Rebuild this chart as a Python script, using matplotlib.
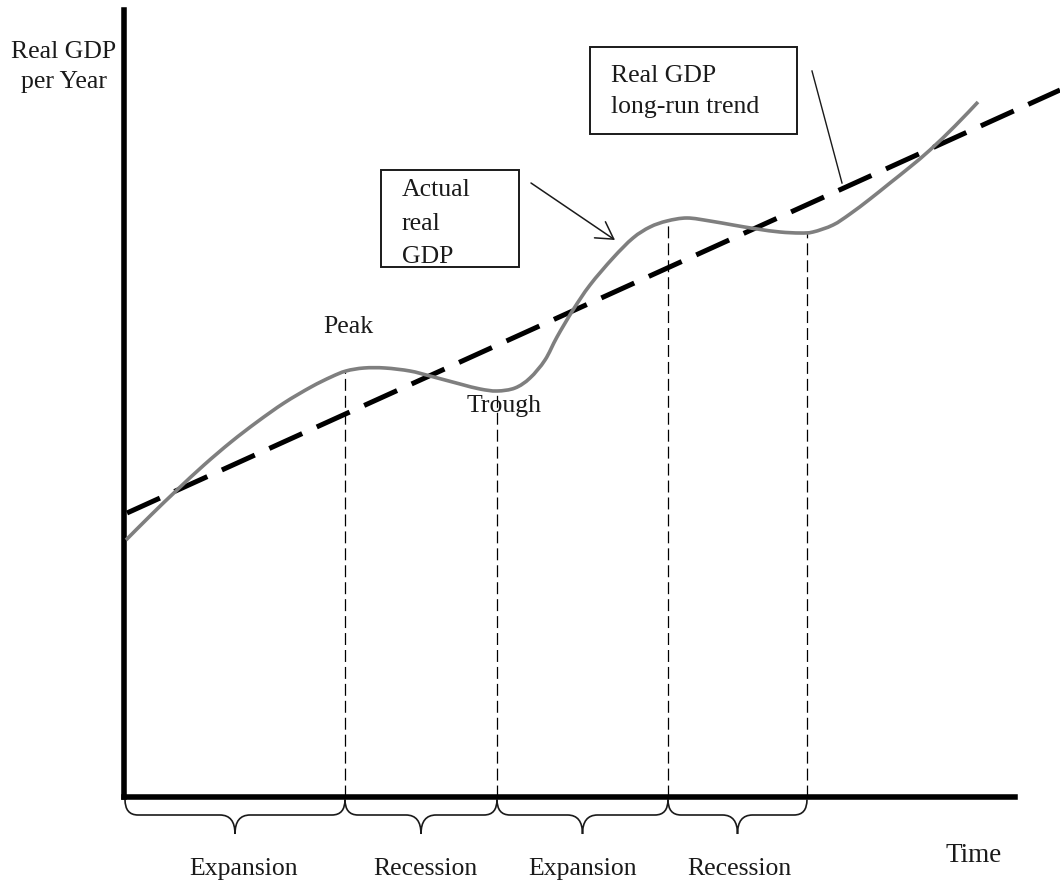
import matplotlib
matplotlib.use("Agg")
import matplotlib.pyplot as plt
import numpy as np
from matplotlib.path import Path
from matplotlib.patches import PathPatch, Rectangle, FancyArrowPatch

plt.rcParams['font.family'] = ['Liberation Serif', 'DejaVu Serif']
plt.rcParams['lines.scale_dashes'] = False

# ---- data (arbitrary units) ----
curve_time = [0.2, 2.7, 5.3, 8.0, 10.7, 13.3, 16.0, 18.7, 20.7, 22.2, 24.0, 26.1,
              28.6, 30.6, 33.6, 35.6, 37.3, 39.1, 40.6, 42.1, 43.3, 44.9, 46.6,
              48.9, 50.9, 52.6, 54.3, 56.3, 58.6, 60.9, 63.3, 65.6, 67.6, 68.9,
              70.9, 72.6, 74.6, 76.6, 78.6, 80.6, 83.1, 85.4]
curve_gdp = [25.7, 28.2, 30.7, 33.2, 35.5, 37.5, 39.4, 41.0, 42.0, 42.6, 42.9, 42.9,
             42.6, 42.1, 41.3, 40.8, 40.6, 40.9, 41.9, 43.7, 46.0, 48.7, 51.2,
             53.9, 55.9, 57.0, 57.6, 57.9, 57.6, 57.2, 56.8, 56.5, 56.4, 56.5,
             57.2, 58.3, 59.8, 61.4, 63.0, 64.7, 67.1, 69.5]
trend_time = [0.3, 93.6]
trend_gdp = [28.4, 70.7]
turning_time = [22.1, 37.3, 54.4, 68.3]
turning_gdp = [42.7, 40.6, 57.6, 56.4]
phase_bounds = [0.1, 22.1, 37.3, 54.4, 68.3]
phase_labels = ['Expansion', 'Recession', 'Expansion', 'Recession']
phase_label_x = [12.0, 30.1, 45.9, 61.5]

FS = 18.5
TXT = '#1a1a1a'
fig = plt.figure(figsize=(10.6, 8.83), dpi=100)
ax = fig.add_axes([124/1060, (883-797)/883, (1015-124)/1060, (797-10)/883])
ax.set_xlim(0, 89.1)
ax.set_ylim(0, 78.7)
for s in ['top', 'right']:
    ax.spines[s].set_visible(False)
for s in ['left', 'bottom']:
    ax.spines[s].set_linewidth(4)
    ax.spines[s].set_color('black')
ax.set_xticks([])
ax.set_yticks([])
ax.patch.set_alpha(0)

# trend line
ax.plot(trend_time, trend_gdp, color='black', lw=3.6, dashes=(26, 11.5),
        clip_on=False, zorder=3)

# actual GDP: smooth path through the read points (Catmull-Rom as Bezier)
P = np.column_stack([curve_time, curve_gdp])
verts = [tuple(P[0])]
codes = [Path.MOVETO]
n = len(P)
for i in range(n - 1):
    p0 = P[max(i - 1, 0)]
    p1 = P[i]
    p2 = P[i + 1]
    p3 = P[min(i + 2, n - 1)]
    c1 = p1 + (p2 - p0) / 6.0
    c2 = p2 - (p3 - p1) / 6.0
    verts += [tuple(c1), tuple(c2), tuple(p2)]
    codes += [Path.CURVE4] * 3
ax.add_patch(PathPatch(Path(verts, codes), fill=False, lw=2.6, edgecolor='#7f7f7f',
                       capstyle='butt', joinstyle='round', clip_on=False, zorder=4))

# vertical dashed lines
for t, g in zip(turning_time, turning_gdp):
    ax.plot([t, t], [0, g], color='black', lw=0.9, dashes=(8.6, 3.6),
            clip_on=False, zorder=2)

# braces
def brace(xa, xb):
    y0, yh, yt = -0.25, -1.8, -3.7
    r, rm = 1.3, 1.5
    xm = (xa + xb) / 2
    verts = [(xa, y0), (xa, yh), (xa + r, yh), (xm - rm, yh), (xm, yh), (xm, yt),
             (xm, yh), (xm + rm, yh), (xb - r, yh), (xb, yh), (xb, y0)]
    codes = [Path.MOVETO, Path.CURVE3, Path.CURVE3, Path.LINETO, Path.CURVE3,
             Path.CURVE3, Path.CURVE3, Path.CURVE3, Path.LINETO, Path.CURVE3,
             Path.CURVE3]
    ax.add_patch(PathPatch(Path(verts, codes), fill=False, lw=1.2,
                           edgecolor=TXT, clip_on=False))

for a, b in zip(phase_bounds[:-1], phase_bounds[1:]):
    brace(a, b)
for lab, x in zip(phase_labels, phase_label_x):
    ax.text(x, -7.8, lab, ha='center', va='baseline', fontsize=FS, color=TXT)
ax.text(85.0, -6.5, 'Time', ha='center', va='baseline', fontsize=19.5, color=TXT)

# y label
ax.text(-6.0, 73.9, 'Real GDP', ha='center', va='baseline', fontsize=FS, color=TXT)
ax.text(-6.0, 70.9, 'per Year', ha='center', va='baseline', fontsize=FS, color=TXT)

# Peak / Trough
ax.text(22.4, 46.4, 'Peak', ha='center', va='baseline', fontsize=FS, color=TXT)
ax.text(38.0, 38.5, 'Trough', ha='center', va='baseline', fontsize=FS, color=TXT)

# Actual real GDP box
ax.add_patch(Rectangle((25.7, 53.0), 13.8, 9.7, fill=False, lw=1.4,
                       edgecolor=TXT, clip_on=False))
for txt, yb in zip(['Actual', 'real', 'GDP'], [60.1, 56.7, 53.4]):
    ax.text(27.8, yb, txt, ha='left', va='baseline', fontsize=FS, color=TXT)
ax.add_patch(FancyArrowPatch((40.7, 61.4), (49.1, 55.7),
                             arrowstyle='->,head_length=0.6,head_width=0.35',
                             mutation_scale=20, lw=1.1, color=TXT,
                             shrinkA=0, shrinkB=0, clip_on=False))

# trend box
ax.add_patch(Rectangle((46.6, 66.3), 20.7, 8.7, fill=False, lw=1.4,
                       edgecolor=TXT, clip_on=False))
ax.text(48.7, 71.5, 'Real GDP', ha='left', va='baseline', fontsize=FS, color=TXT)
ax.text(48.7, 68.4, 'long-run trend', ha='left', va='baseline', fontsize=FS, color=TXT)
ax.plot([68.8, 71.8], [72.6, 61.4], color=TXT, lw=1.0, clip_on=False)

fig.savefig('out.png', dpi=100)
